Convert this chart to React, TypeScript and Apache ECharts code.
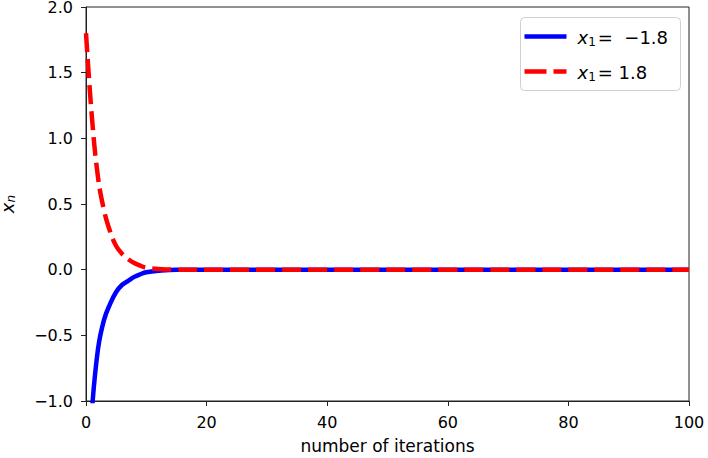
import React, { useEffect, useRef } from "react";
import * as echarts from "echarts";

const iterations = [0, 1, 2, 3, 4, 5, 6, 7, 8, 9, 10, 12, 15, 20, 100];
const negStart = [-1.8, -1.06, -0.6, -0.38, -0.26, -0.17, -0.115, -0.085, -0.055, -0.035, -0.02, -0.008, 0, 0, 0];
const posStart = [1.8, 1.15, 0.7, 0.45, 0.29, 0.18, 0.12, 0.08, 0.05, 0.03, 0.015, 0.005, 0, 0, 0];
const seriesNames = ["neg", "pos"];
const legendLabels = ["=  −1.8", "= 1.8"];
const xTicks = { min: 0, max: 100, interval: 20 };
const yTicks = { min: -1, max: 2, interval: 0.5 };

const FONT = "DejaVu Sans";
const BLUE = "#0000ff";
const RED = "#ff0000";
const RED_DASH = [19, 7];

export default function App() {
  const ref = useRef<HTMLDivElement>(null);
  useEffect(() => {
    if (!ref.current) return;
    const chart = echarts.init(ref.current, undefined, { renderer: "svg" });
    const axisColor = "#222";
    const richLabel = {
      i: { fontFamily: FONT, fontStyle: "italic", fontSize: 18, fill: "#000", color: "#000" },
      s: { fontFamily: FONT, fontSize: 12, fill: "#000", color: "#000", padding: [8, 2, 0, 0] },
      n: { fontFamily: FONT, fontSize: 18, fill: "#000", color: "#000" },
    };
    chart.setOption({
      animation: false,
      textStyle: { fontFamily: FONT },
      grid: {
        left: 86,
        right: 19,
        top: 7,
        bottom: 57,
        show: true,
        borderColor: axisColor,
        borderWidth: 1,
        containLabel: false,
        outerBoundsMode: "none",
      },
      graphic: [
        {
          type: "group",
          left: 520,
          top: 17,
          children: [
            {
              type: "rect",
              shape: { x: 0, y: 0, width: 160, height: 73, r: 4 },
              style: { fill: "#fff", stroke: "#d0d0d0", lineWidth: 1 },
            },
            {
              type: "line",
              shape: { x1: 4, y1: 19, x2: 46, y2: 19 },
              style: { stroke: BLUE, lineWidth: 4.5 },
            },
            {
              type: "text",
              x: 57,
              y: 20,
              style: {
                text: "{i|x}{s|1}{n|" + legendLabels[0] + "}",
                verticalAlign: "middle",
                rich: richLabel,
              },
            },
            {
              type: "line",
              shape: { x1: 4, y1: 54, x2: 46, y2: 54 },
              style: { stroke: RED, lineWidth: 4.5, lineDash: [22, 7] },
            },
            {
              type: "text",
              x: 57,
              y: 55,
              style: {
                text: "{i|x}{s|1}{n|" + legendLabels[1] + "}",
                verticalAlign: "middle",
                rich: richLabel,
              },
            },
          ],
        },
      ],
      xAxis: {
        type: "value",
        min: xTicks.min,
        max: xTicks.max,
        interval: xTicks.interval,
        name: "number of iterations",
        nameLocation: "middle",
        nameGap: 36,
        nameTextStyle: { fontFamily: FONT, fontSize: 17, color: "#000" },
        axisLine: { show: true, onZero: false, lineStyle: { color: axisColor, width: 1 } },
        axisTick: { show: true, length: 5, lineStyle: { color: axisColor } },
        axisLabel: { fontFamily: FONT, fontSize: 16, color: "#000", margin: 13 },
        splitLine: { show: false },
      },
      yAxis: {
        type: "value",
        min: yTicks.min,
        max: yTicks.max,
        interval: yTicks.interval,
        name: "{i|x}{s|n}",
        nameLocation: "middle",
        nameRotate: 90,
        nameGap: 69,
        nameTextStyle: {
          rich: {
            i: { fontFamily: FONT, fontStyle: "italic", fontSize: 18, color: "#000" },
            s: { fontFamily: FONT, fontStyle: "italic", fontSize: 12, color: "#000", padding: [8, 0, 0, 0] },
          },
        },
        axisLine: { show: true, onZero: false, lineStyle: { color: axisColor, width: 1 } },
        axisTick: { show: true, length: 5, lineStyle: { color: axisColor } },
        axisLabel: {
          fontFamily: FONT,
          fontSize: 16,
          color: "#000",
          margin: 13,
          formatter: (v: number) => v.toFixed(1).replace("-", "−"),
        },
        splitLine: { show: false },
      },
      series: [
        {
          name: seriesNames[0],
          type: "line",
          data: iterations.map((x, i) => [x, negStart[i]]),
          showSymbol: false,
          symbol: "none",
          smooth: 0.4,
          clip: true,
          lineStyle: { color: BLUE, width: 4.5 },
          itemStyle: { color: BLUE },
        },
        {
          name: seriesNames[1],
          type: "line",
          data: iterations.map((x, i) => [x, posStart[i]]),
          showSymbol: false,
          symbol: "none",
          smooth: 0.4,
          clip: true,
          lineStyle: { color: RED, width: 4.5, type: RED_DASH },
          itemStyle: { color: RED },
        },
      ],
    });
    return () => chart.dispose();
  }, []);
  return (
    <div
      ref={ref}
      style={{ position: "fixed", left: 0, top: 0, width: 708, height: 458, background: "#fff" }}
    />
  );
}
